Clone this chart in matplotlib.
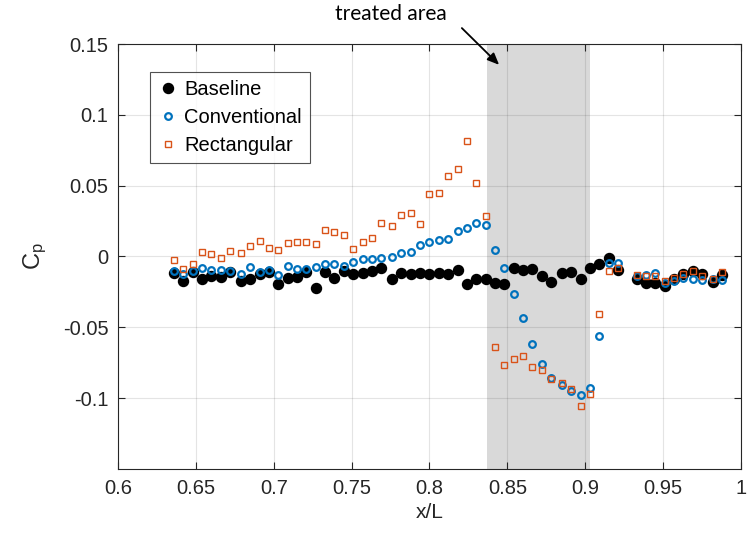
import matplotlib
matplotlib.use("Agg")
import matplotlib.pyplot as plt

# x/L stations
x_over_L = [
    0.636, 0.642, 0.648, 0.654, 0.660, 0.666, 0.672, 0.679, 0.685, 0.691,
    0.697, 0.703, 0.709, 0.715, 0.721, 0.727, 0.733, 0.739, 0.745, 0.751,
    0.757, 0.763, 0.769, 0.776, 0.782, 0.788, 0.794, 0.800, 0.806, 0.812,
    0.818, 0.824, 0.830, 0.836, 0.842, 0.848, 0.854, 0.860, 0.866, 0.872,
    0.878, 0.885, 0.891, 0.897, 0.903, 0.909, 0.915, 0.921,
    0.933, 0.939, 0.945, 0.951, 0.957, 0.963, 0.969, 0.975, 0.982, 0.988,
]

cp_baseline = [
    -0.0117, -0.0173, -0.0110, -0.0157, -0.0138, -0.0148, -0.0110, -0.0173, -0.0161, -0.0127,
    -0.0106, -0.0193, -0.0152, -0.0148, -0.0106, -0.0221, -0.0106, -0.0152, -0.0101, -0.0124,
    -0.0117, -0.0101, -0.0080, -0.0161, -0.0113, -0.0127, -0.0120, -0.0122, -0.0113, -0.0122,
    -0.0092, -0.0196, -0.0157, -0.0157, -0.0188, -0.0196, -0.0080, -0.0094, -0.0087, -0.0138,
    -0.0177, -0.0117, -0.0110, -0.0161, -0.0082, -0.0050, -0.0010, -0.0092,
    -0.0159, -0.0189, -0.0187, -0.0210, -0.0157, -0.0127, -0.0103, -0.0122, -0.0177, -0.0129,
]

cp_conventional = [
    -0.0099, -0.0122, -0.0099, -0.0078, -0.0096, -0.0092, -0.0099, -0.0124, -0.0075, -0.0108,
    -0.0096, -0.0134, -0.0068, -0.0087, -0.0089, -0.0071, -0.0050, -0.0052, -0.0066, -0.0036,
    -0.0017, -0.0017, -0.0013, -0.0006, 0.0024, 0.0031, 0.0080, 0.0099, 0.0113, 0.0124,
    0.0182, 0.0198, 0.0233, 0.0219, 0.0045, -0.0080, -0.0268, -0.0437, -0.0618, -0.0762,
    -0.0855, -0.0908, -0.0948, -0.0976, -0.0929, -0.0558, -0.0047, -0.0043,
    -0.0138, -0.0130, -0.0117, -0.0185, -0.0175, -0.0150, -0.0160, -0.0165, -0.0160, -0.0168,
]

cp_rectangular = [
    -0.0022, -0.0085, -0.0050, 0.0033, 0.0017, -0.0008, 0.0038, 0.0026, 0.0075, 0.0106,
    0.0059, 0.0043, 0.0092, 0.0099, 0.0099, 0.0089, 0.0184, 0.0173, 0.0150, 0.0050,
    0.0103, 0.0134, 0.0235, 0.0214, 0.0291, 0.0305, 0.0226, 0.0442, 0.0451, 0.0569,
    0.0618, 0.0816, 0.0516, 0.0287, -0.0637, -0.0764, -0.0725, -0.0701, -0.0778, -0.0799,
    -0.0868, -0.0892, -0.0938, -0.1056, -0.0969, -0.0409, -0.0099, -0.0082,
    -0.0129, -0.0136, -0.0140, -0.0173, -0.0152, -0.0124, -0.0103, -0.0138, -0.0157, -0.0110,
]

treated_start, treated_end = 0.837, 0.903

x_ticks = [0.6, 0.65, 0.7, 0.75, 0.8, 0.85, 0.9, 0.95, 1.0]
x_tick_labels = ["0.6", "0.65", "0.7", "0.75", "0.8", "0.85", "0.9", "0.95", "1"]
y_ticks = [-0.1, -0.05, 0.0, 0.05, 0.1, 0.15]
y_tick_labels = ["-0.1", "-0.05", "0", "0.05", "0.1", "0.15"]


def plot_cp():
    plt.rcParams["font.family"] = ["Liberation Sans", "DejaVu Sans"]
    plt.rcParams["mathtext.default"] = "regular"

    fig = plt.figure(figsize=(7.51, 5.40), dpi=100)
    ax = fig.add_axes([0.1571, 0.1315, 0.8296, 0.787])

    # Treated region shading (behind grid)
    ax.axvspan(treated_start, treated_end, color="#d9d9d9", lw=0, zorder=1)

    ax.plot(x_over_L, cp_baseline, "o", color="black", ms=7.2, label="Baseline", zorder=3)
    ax.plot(x_over_L, cp_conventional, "o", mfc="none", mec="#0072bd", mew=1.6,
            ms=4.8, label="Conventional", zorder=4)
    ax.plot(x_over_L, cp_rectangular, "s", mfc="none", mec="#d95319", mew=1.0,
            ms=4.3, label="Rectangular", zorder=5)

    ax.set_xlim(0.6, 1.0)
    ax.set_ylim(-0.15, 0.15)
    ax.set_xticks(x_ticks)
    ax.set_xticklabels(x_tick_labels)
    ax.set_yticks(y_ticks)
    ax.set_yticklabels(y_tick_labels)

    ax.grid(True, color="#262626", alpha=0.12, lw=0.8)
    ax.tick_params(direction="in", top=True, right=True, length=5,
                   color="#262626", labelsize=14.5, labelcolor="#262626", pad=7)
    for s in ax.spines.values():
        s.set_color("#262626")
        s.set_linewidth(0.8)

    ax.set_xlabel("x/L", fontsize=15, color="#262626", labelpad=4)
    ax.set_ylabel("C$_p$", fontsize=17, color="#262626", labelpad=10)

    leg = ax.legend(loc="upper left", bbox_to_anchor=(0.051, 0.934), borderaxespad=0,
                    fontsize=14.5, frameon=True, fancybox=False, handletextpad=0.3,
                    handlelength=1.0, borderpad=0.4, labelspacing=0.45)
    leg.get_frame().set_edgecolor("#262626")
    leg.get_frame().set_linewidth(0.8)
    for t in leg.get_texts():
        t.set_color("black")

    # Callout for the treated area
    fig.text(0.521, 0.974, "treated area", ha="center", va="center",
             fontsize=15, family=["Lato", "DejaVu Sans"])
    ax.annotate("", xy=(0.8447, 0.1353), xycoords="data",
                xytext=(0.615, 0.948), textcoords="figure fraction",
                annotation_clip=False,
                arrowprops=dict(arrowstyle="-|>,head_length=0.7,head_width=0.3",
                                color="black", lw=1.3, shrinkA=0, shrinkB=0))

    fig.savefig("out.png", dpi=100)


if __name__ == "__main__":
    plot_cp()
